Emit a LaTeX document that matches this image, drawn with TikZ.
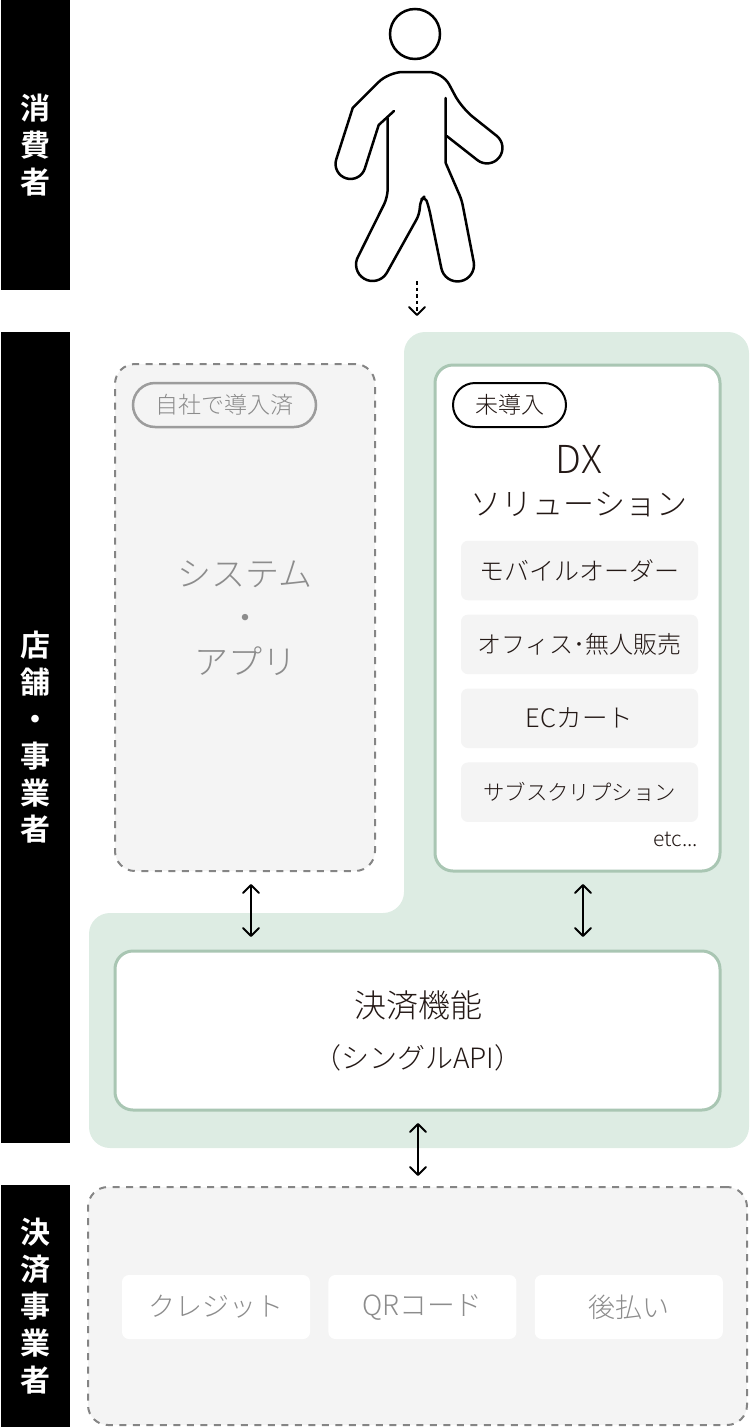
\documentclass[tikz,border=0pt]{standalone}
\usepackage{fontspec}
\setmainfont[BoldFont={Noto Sans CJK JP Bold}]{Noto Sans CJK JP Light}
\usetikzlibrary{positioning,arrows.meta}
\definecolor{regiongreen}{HTML}{DDECE3}
\definecolor{framegreen}{HTML}{A9C6B3}
\definecolor{panelgrey}{HTML}{F4F4F4}
\definecolor{dashgrey}{HTML}{858585}
\definecolor{pillgrey}{HTML}{9C9C9C}
\definecolor{textgrey}{HTML}{8C8C8C}
\definecolor{inkblack}{HTML}{231815}
\begin{document}
\begin{tikzpicture}[x=1pt,y=-1pt,text=inkblack]
\tikzstyle{band}=[rectangle, fill = black, text = white, inner sep = 0, minimum width = 69pt, align = center, font = \bfseries\fontsize{30}{36.8}\selectfont]
\tikzstyle{solution}=[rectangle, rounded corners = 18pt, draw = framegreen, line width = 3pt, fill = white, inner sep = 0]
\tikzstyle{dashbox}=[rectangle, rounded corners = 20pt, draw = dashgrey, line width = 2pt, dash pattern = on 7pt off 6.5pt, fill = panelgrey, inner sep = 0]
\tikzstyle{item}=[rectangle, rounded corners = 7pt, fill = panelgrey, minimum width = 237pt, minimum height = 59.5pt, inner sep = 0, font = \fontsize{24}{24}\selectfont]
\tikzstyle{cell}=[rectangle, rounded corners = 7pt, fill = white, text = textgrey, minimum width = 188pt, minimum height = 64pt, inner sep = 0, font = \fontsize{27}{27}\selectfont]
\tikzstyle{pill}=[rectangle, rounded corners = 22pt, line width = 2.5pt, minimum height = 44pt, inner sep = 0]
\tikzstyle{figure}=[line width = 2.5pt, line join = round, line cap = round]
\tikzstyle{connect}=[{Straight Barb[length=8pt,width=16pt,round]}-{Straight Barb[length=8pt,width=16pt,round]}, line width = 2pt]
\tikzstyle{walk}=[-{Straight Barb[length=8pt,width=16pt,round]}, line width = 2pt, dash pattern = on 3.5pt off 3pt]
\useasboundingbox (0,0) rectangle (750,1427);
  \node[band, minimum height = 290pt] (consumer) at (35.5,145) {消\\費\\者};
  \node[band, minimum height = 811pt] (merchant) at (35.5,737.5) {店\\舗\\・\\事\\業\\者};
  \node[band, minimum height = 242pt] (payer) at (35.5,1306) {決\\済\\事\\業\\者};
\fill[regiongreen, rounded corners = 21pt] (404,332) -- (749,332) -- (749,1148) -- (89,1148) -- (89,913) -- (404,913) -- cycle;
  \node[dashbox, minimum width = 260pt, minimum height = 507pt] (system) at (245,617.5) {};
  \node[solution, minimum width = 285pt, minimum height = 506pt] (dx) at (577.5,618) {};
  \node[solution, minimum width = 605pt, minimum height = 159pt] (single) at (417.5,1030.5) {};
  \node[dashbox, minimum width = 659pt, minimum height = 238pt] (provider) at (417.5,1306) {};
  \node[pill, draw = pillgrey, text = textgrey, minimum width = 183pt, font = \fontsize{23}{23}\selectfont] (done) at (224.5,405) {自社で導入済};
  \node[pill, draw = black, minimum width = 113pt, line width = 2pt, font = \fontsize{23}{23}\selectfont] (todo) at (509.5,405) {未導入};
  \node[text = textgrey, align = center, font = \fontsize{34}{44}\selectfont] (apps) at (245,618) {システム\\・\\アプリ};
  \node[align = center, font = \fontsize{31}{42}\selectfont] (dxtitle) at (579,481) {{\fontsize{38.5}{42}\selectfont DX}\\ソリューション};
  \node[item, font = \fontsize{25}{25}\selectfont] (order) at (579.5,570.5) {モバイルオーダー};
  \node[item] (office) [below = 14pt of order] {オフィス･無人販売};
  \node[item, font = \fontsize{25.5}{25.5}\selectfont] (cart) [below = 14pt of office] {ECカート};
  \node[item, font = \fontsize{21.4}{21.4}\selectfont] (subscription) [below = 14pt of cart] {サブスクリプション};
  \node[anchor = east, inner sep = 0, font = \fontsize{21}{21}\selectfont] (etc) at (698,839) {etc...};
  \node[font = \fontsize{32}{32}\selectfont] (pay) at (418,1005) {決済機能};
  \node[font = \fontsize{28}{28}\selectfont] (api) at (418,1058) {（シングルAPI）};
  \node[cell] (credit) at (216,1307) {クレジット};
  \node[cell, font = \fontsize{27.8}{27.8}\selectfont] (qr) [right = 18pt of credit] {QRコード};
  \node[cell] (later) [right = 18pt of qr] {後払い};
\draw[figure] (394,111) -- (378.7,125) -- (364.8,168.6) arc (18:198:15) -- (352.7,108) [rounded corners = 14pt] -- (388.7,72) -- (442.5,72) -- (461.7,108) [sharp corners] -- (496.5,135.7) arc (-52:128:15.5) -- (446.7,136);
\draw[figure] (445.7,98) -- (445.7,163) [rounded corners = 5pt] -- (461.7,200) [sharp corners] -- (473.7,261.8) arc (-11:169:16.5) [rounded corners = 5pt] -- (429,208) -- (425,196) -- (420.7,200) -- (419,215) [sharp corners] -- (386.7,273) arc (31:211:16.5) [rounded corners = 8pt] -- (387.7,197) [sharp corners] -- (387.7,118);
  \node[circle, draw, line width = 2.5pt, minimum size = 50pt, inner sep = 0] (head) at (415,34) {};
\coordinate (stepa) at (417,281);
\coordinate (stepb) at (417,316);
\coordinate (sysa) at (251,884);
\coordinate (sysb) at (251,937);
\coordinate (dxa) at (583,884);
\coordinate (dxb) at (583,937);
\coordinate (paya) at (418,1123);
\coordinate (payb) at (418,1176);
\draw[walk] (stepa) -- (stepb);
\path (sysa) edge[connect] (sysb)
      (dxa) edge[connect] (dxb)
      (paya) edge[connect] (payb)
      ;
\end{tikzpicture}
\end{document}
